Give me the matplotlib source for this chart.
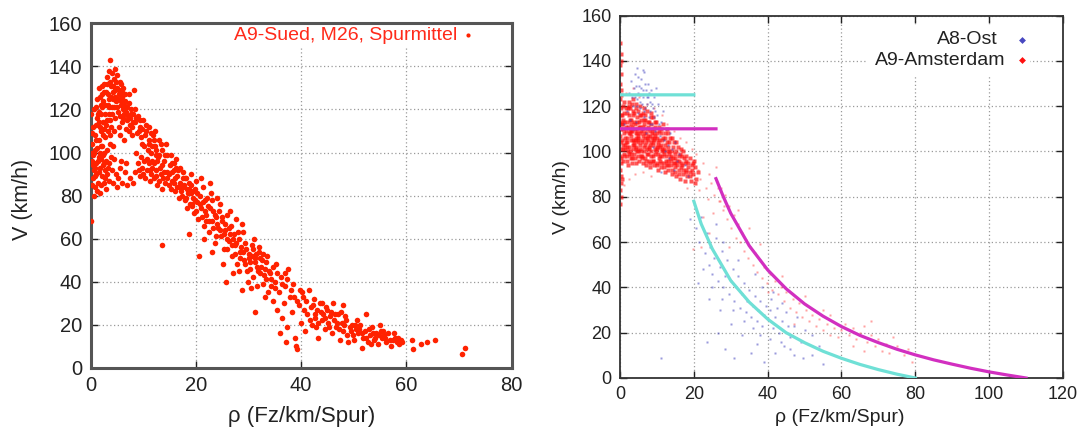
import matplotlib
matplotlib.use('Agg')
import matplotlib.pyplot as plt # Commandes plots
from matplotlib.patches import Rectangle # Fond blanc derriere la legende

plt.rcParams['font.family'] = ['Liberation Sans', 'DejaVu Sans']

# ---- Donnees (rho en Fz/km/Spur, V en km/h) ----
# Gauche : A9-Sued, M26, Spurmittel
sued_core = [(0.2,96),(0.3,104),(0.4,88),(0.5,112),(0.6,92),(0.7,100),(0.8,84),(0.9,108),(1.0,95),(1.1,90),
    (1.2,102),(1.3,116),(1.4,86),(1.5,98),(1.6,106),(1.7,93),(1.8,81),(1.9,110),(2.0,97),(2.1,89),(2.2,103),
    (2.3,94),(2.4,114),(2.5,86),(2.6,100),(2.7,92),(2.8,107),(2.9,96),(3.0,83),(3.1,101),(3.2,90),(3.3,110),
    (3.4,95),(3.5,87),(3.6,104),(3.8,98),(4.0,92),(0.1,118),(0.2,109),(0.3,85),(0.5,99),(0.6,120),(0.8,93),
    (1.0,113),(1.2,82),(1.4,96),(1.6,119),(1.8,100),(2.0,85),(2.2,121),(2.5,95),(2.8,88),(3.1,115),(0.4,94),
    (0.9,101),(1.5,91),(2.4,99),(3.3,93),(0.1,68),(0.7,80),(1.1,106),(1.9,103),(2.6,111),(0.3,100),(0.9,89),
    (4.2,86),(4.5,97),(4.8,90),(5.2,88),(5.5,93),(6.0,86),(6.5,91),(7.0,85),(7.5,88),(8.0,86),(5.0,84),
    (3.7,108),(4.3,103),(5.8,96),(6.8,95)]
sued_upper = [(1.2,125),(1.5,130),(2.0,118),(2.2,127),(2.5,132),(2.7,122),(3.0,128),(3.2,135),(3.4,118),
    (3.5,125),(3.7,143),(3.8,131),(4.0,137),(4.1,121),(4.3,128),(4.5,134),(4.6,116),(4.8,124),(5.0,130),
    (5.2,119),(5.3,127),(5.5,133),(5.7,122),(5.9,114),(6.0,126),(6.2,130),(6.4,118),(6.6,124),(6.8,111),
    (7.0,121),(7.2,127),(7.4,116),(7.6,120),(7.8,112),(8.0,118),(8.3,129),(8.5,114),(8.8,109),(9.0,117),
    (9.3,112),(9.6,107),(10.0,115),(2.9,113),(3.9,112),(4.4,110),(5.6,108),(6.3,106),(7.3,110),(1.8,112),
    (2.4,108),(3.3,122),(4.7,129),(5.4,112),(6.1,120),(6.9,115),(2.1,131),(5.1,136),(5.8,132),(3.6,115),(4.2,125),
    (1.0,121),(1.4,118),(1.7,126),(2.3,124),(2.6,128),(2.8,118),(3.1,132),(3.3,127),(3.5,121),(3.7,133),
    (3.9,126),(4.0,118),(4.2,131),(4.4,121),(4.6,126),(4.9,133),(5.0,121),(5.2,125),(5.4,129),(5.6,117),
    (5.8,124),(6.0,128),(6.2,116),(6.4,122),(6.6,127),(6.8,119),(7.1,117),(7.3,123),(7.5,113),(7.7,118),
    (8.1,114),(8.4,120),(8.7,116),(9.1,110),(9.4,115),(9.8,111),(10.3,108),(10.6,113),(11.0,104),(11.4,109),
    (11.7,103),(12.1,106),(12.5,101),(13.0,99),(13.4,104),(3.4,138),(4.6,139),(2.0,122),(1.6,114),(7.9,108)]
sued_mid = [(10.2,103),(10.5,110),(10.8,97),(11.0,106),(11.2,92),(11.5,100),(11.8,108),(12.0,95),(12.3,103),
    (12.5,89),(12.8,98),(13.0,106),(13.2,93),(13.5,101),(13.8,88),(14.0,96),(14.3,104),(14.5,91),(14.8,85),
    (15.0,94),(15.3,99),(15.5,87),(15.8,92),(16.0,82),(16.2,97),(16.5,89),(16.8,84),(17.0,93),(17.3,80),
    (17.5,88),(17.8,85),(18.0,78),(9.0,95),(9.5,98),(10.0,90),(11.3,87),(12.7,85),(8.6,100),(9.8,104),
    (11.6,96),(13.6,83),(14.6,99),(15.9,95),(16.7,79),(17.6,91),(18.4,83),(13.5,57),(11.0,112),(12.2,110),(9.2,92),
    (9.3,89),(9.7,93),(10.1,96),(10.4,88),(10.7,92),(11.1,95),(11.4,90),(11.7,93),(12.0,88),(12.4,92),
    (12.6,96),(12.9,87),(13.3,90),(13.6,94),(13.9,91),(14.2,86),(14.5,88),(14.9,90),(15.2,83),(15.5,91),
    (15.8,86),(16.1,88),(16.4,84),(16.6,92),(17.0,86),(17.2,82),(17.6,84),(17.9,88),(18.2,79),(18.6,86),
    (19.0,81),(19.3,76),(8.4,91),(10.9,101),(12.4,99),(14.1,99),(15.5,95),(16.3,93)]
sued_band = [(18.2,88),(18.5,81),(18.7,62),(18.9,76),(19.1,85),(19.4,79),(19.6,72),(19.9,83),(20.2,77),
    (20.4,69),(20.6,52),(20.8,80),(21.0,74),(21.3,84),(21.5,66),(21.8,78),(22.0,71),(22.3,75),(22.5,63),
    (22.8,81),(23.0,68),(23.3,73),(23.6,58),(23.9,70),(24.2,65),(24.5,76),(24.8,61),(25.0,68),(25.3,55),
    (25.6,64),(25.8,40),(26.0,71),(26.3,59),(26.6,66),(26.9,52),(27.2,62),(27.5,57),(27.8,48),(28.1,60),
    (28.4,54),(28.8,67),(28.8,36),(29.1,50),(29.4,58),(29.7,45),(30.0,53),(30.3,49),(30.6,57),(30.9,42),
    (31.2,26),(31.3,51),(31.6,47),(31.9,54),(32.2,44),(32.5,50),(32.8,39),(33.1,46),(33.4,41),(33.7,35),
    (34.0,44),(34.3,38),(34.6,31),(35.0,40),(19.0,90),(20.0,87),(21.6,60),(22.6,86),(24.0,79),(26.4,73),
    (27.0,44),(29.0,63),(31.0,60),(32.0,56),(33.5,52),(23.1,54),(25.2,48),(27.6,69),(30.5,37),(22.0,68),(20.9,88),
    (18.3,74),(18.6,83),(19.2,75),(19.5,82),(19.8,78),(20.1,73),(20.3,81),(20.7,76),(21.1,70),(21.4,77),
    (21.7,73),(22.1,79),(22.4,68),(22.7,74),(23.0,78),(23.3,65),(23.6,71),(24.0,67),(24.3,73),(24.6,64),
    (24.9,70),(25.3,62),(25.6,67),(25.9,60),(26.2,65),(26.5,62),(26.8,57),(27.1,60),(27.4,53),(27.7,58),
    (28.0,63),(28.3,51),(28.6,56),(29.0,54),(29.3,48),(29.6,55),(30.0,51),(30.3,46),(30.6,52),(30.9,55),
    (31.2,49),(31.5,53),(31.8,45),(32.1,51),(32.4,47),(32.7,53),(33.0,43),(33.3,49),(33.8,45),(34.2,41),
    (34.6,47),(35.1,37),(35.4,44),(36.3,39),(36.9,44),(37.4,41),(38.0,36),(38.6,33),(39.2,31),(39.8,36),
    (23.9,61),(26.0,55),(28.2,45),(29.9,40),(31.7,38),(33.2,33)]
sued_tail = [(35.2,48),(35.5,27),(35.8,35),(36.1,42),(36.4,23),(36.7,30),(37.0,38),(37.3,19),(37.6,46),
    (37.9,33),(38.2,26),(38.5,39),(38.8,14),(39.0,10),(39.3,8.5),(39.6,29),(40.0,21),(40.4,33),(40.8,17),
    (41.2,25),(41.5,36),(41.8,28),(42.1,20),(42.4,32),(42.7,23),(43.0,27),(43.3,14),(43.6,30),(43.9,22),
    (44.2,25),(44.5,18),(44.8,28),(45.1,21),(45.5,24),(45.8,16),(46.0,30),(46.3,22),(46.7,19),(47.0,25),
    (47.4,13),(47.7,21),(48.0,17),(48.4,24),(48.8,15),(49.2,19),(49.6,20),(50.0,13),(50.4,18),(50.8,16),
    (51.2,20),(51.5,9),(51.8,14),(52.1,17),(52.4,25),(52.7,12),(53.0,15),(53.4,19),(53.8,13),(54.2,16),
    (54.6,11),(55.0,20),(55.4,14),(55.8,15),(56.2,12),(56.6,16),(57.0,10),(57.4,13),(57.8,14),(58.2,12),
    (58.6,11),(59.0,13),(61.0,13),(61.3,8.5),(62.8,11),(64.0,12),(65.4,13),(70.5,6.5),(71.1,9),(36.0,16),
    (37.2,12),(40.2,35),(42.9,19),(45.0,27),(49.0,12),(50.6,22),(53.2,11),(55.6,17),(47.9,29),
    (40.6,27),(41.0,31),(41.6,22),(42.2,29),(42.6,25),(43.2,21),(43.8,26),(44.0,30),(44.6,23),(45.3,19),
    (45.7,26),(46.5,25),(47.2,18),(47.6,26),(48.2,20),(48.6,22),(49.4,17),(49.8,15),(50.2,20),(51.0,18),
    (51.6,16),(52.3,14),(52.9,18),(53.6,16),(54.0,14),(54.8,15),(55.2,17),(56.0,14),(56.8,13),(57.6,16),
    (58.4,14),(59.2,12),(46.9,21)]

# Droite : A9-Amsterdam (rouge)
ams_edge = [(0.1,148),(0.2,143),(0.1,138),(0.3,134),(0.1,130),(0.2,127),(0.1,123),(0.3,119),(0.2,116),
    (0.1,113),(0.2,110),(0.1,107),(0.3,104),(0.2,101),(0.1,98),(0.2,95),(0.1,92),(0.3,89),(0.2,86),(0.1,83),
    (0.2,80),(0.1,77),(0.4,140),(0.4,125),(0.5,112),(0.4,97),(0.5,88)]
ams_core = [(0.8,96),(1.3,101),(0.6,105),(1.1,108),(1.5,111),(0.9,114),(1.2,117),(0.7,120),(1.4,103),(1.0,99),
    (0.5,112),(1.6,109),(2.2,94),(1.8,98),(2.4,102),(2.0,106),(2.6,110),(1.9,113),(2.3,116),(2.1,119),(2.5,122),
    (1.7,104),(2.7,108),(2.2,100),(3.1,97),(2.8,100),(3.4,103),(3.0,107),(3.3,111),(2.9,114),(3.5,118),(3.2,121),
    (3.6,105),(3.0,109),(3.3,95),(3.7,113),(4.2,95),(3.9,99),(4.4,102),(4.0,105),(4.6,108),(4.1,112),(4.5,115),
    (4.3,119),(3.8,104),(4.7,110),(4.2,101),(5.1,96),(4.9,100),(5.4,103),(5.0,106),(5.6,109),(5.2,113),(5.5,116),
    (4.8,107),(5.3,111),(5.7,98),(5.0,104),(6.2,95),(5.9,98),(6.4,102),(6.0,105),(6.6,108),(6.1,111),(6.5,114),
    (6.3,117),(5.8,100),(6.7,106),(7.1,94),(6.9,97),(7.4,101),(7.0,104),(7.6,107),(7.2,110),(7.5,113),(6.8,116),
    (7.3,99),(7.7,105),(8.2,93),(7.9,96),(8.4,100),(8.0,103),(8.6,106),(8.1,109),(8.5,112),(8.3,115),(7.8,102),
    (8.7,108),(9.1,94),(8.9,98),(9.4,101),(9.0,104),(9.6,107),(9.2,110),(9.5,113),(8.8,96),(9.3,105),(10.2,92),
    (9.9,95),(10.4,99),(10.0,102),(10.6,105),(10.1,108),(10.5,111),(9.8,100),(10.3,104),(11.1,93),(10.9,96),
    (11.4,100),(11.0,103),(11.6,106),(11.2,110),(10.8,98),(11.5,101),(12.2,91),(11.9,95),(12.4,98),(12.0,101),
    (12.6,104),(12.1,108),(11.8,99),(13.1,92),(12.9,96),(13.4,99),(13.0,102),(13.6,106),(12.8,94),(13.3,100),
    (14.2,90),(13.9,94),(14.4,97),(14.0,100),(14.6,104),(13.8,96),(15.1,89),(14.9,93),(15.4,96),(15.0,99),
    (15.6,102),(14.8,95),(16.2,88),(15.9,92),(16.4,95),(16.0,98),(16.6,101),(17.1,90),(16.9,94),(17.4,97),
    (17.0,100),(17.6,87),(18.2,89),(17.9,92),(18.4,95),(18.0,98),(19.1,87),(18.9,91),(19.4,94),(19.0,97),
    (20.2,86),(19.8,90),(20.4,93),(20.0,96)]
ams_fill = [(1.0,98),(0.7,103),(1.4,106),(0.9,110),(1.2,113),(0.6,116),(1.5,119),(1.1,122),(0.8,101),
    (2.0,96),(2.5,99),(1.9,104),(2.3,108),(2.1,111),(2.6,114),(1.8,117),(2.4,120),(2.0,102),
    (3.0,99),(3.5,101),(2.9,105),(3.3,109),(3.1,112),(3.6,116),(2.8,119),(3.4,123),(3.2,97),
    (4.0,97),(4.5,100),(3.9,103),(4.3,106),(4.1,110),(4.6,113),(3.8,117),(4.4,121),(4.2,108),
    (5.0,98),(5.5,101),(4.9,105),(5.3,108),(5.1,111),(5.6,114),(4.8,118),(5.4,120),
    (6.0,97),(6.5,100),(5.9,104),(6.3,107),(6.1,110),(6.6,112),(5.8,116),(6.4,119),
    (7.0,96),(7.5,99),(6.9,103),(7.3,106),(7.1,108),(7.6,111),(6.8,114),(7.4,118),
    (8.0,95),(8.5,98),(7.9,101),(8.3,104),(8.1,107),(8.6,110),(7.8,113),(8.4,117),
    (9.0,96),(9.5,99),(8.9,103),(9.3,106),(9.1,108),(9.6,111),(8.8,115),
    (10.0,94),(10.5,97),(9.9,101),(10.3,103),(10.1,106),(10.6,109),(9.8,113),
    (11.0,95),(11.5,98),(10.9,102),(11.3,105),(11.1,108),(11.6,112),
    (12.0,93),(12.5,96),(11.9,100),(12.3,103),(12.1,106),(12.6,110),
    (13.0,94),(13.5,97),(12.9,100),(13.3,104),(13.1,108),
    (14.0,92),(14.5,95),(13.9,98),(14.3,102),(14.1,106),
    (15.0,91),(15.5,94),(14.9,97),(15.3,100),(15.1,104),
    (16.0,90),(16.5,93),(15.9,96),(16.3,99),(17.0,92),(17.5,95),(16.9,98),(18.0,91),(18.5,93),(17.9,96),
    (19.0,89),(19.5,92),(19.8,95),(20.6,88),(21.0,91)]
ams_sparse = [(1.5,126),(3.5,128),(5.2,124),(7.4,121),(9.1,119),(11.3,116),(12.8,112),(14.5,109),(16.3,106),
    (17.9,104),(2.3,88),(4.1,90),(1.2,85),(6.3,91),(8.5,89),(19.5,101),(21.0,92),(21.8,88),(22.5,95),(23.3,84),
    (24.0,90),(24.6,86),(25.4,81),(26.0,93),(26.7,78),(27.4,84),(28.3,76),(21.4,83),(23.8,79),(19.9,57),
    (22.5,71),(25.1,73),(18.2,84),(20.5,99)]
ams_jam = [(26.5,84),(27.2,78),(27.8,74),(28.4,81),(29.0,70),(29.5,76),(30.2,66),(30.8,72),(31.3,62),(31.9,68),
    (32.5,60),(33.0,64),(33.6,56),(34.2,61),(34.8,53),(35.3,58),(36.0,50),(36.6,55),(37.2,47),(37.9,52),
    (38.5,44),(39.1,49),(39.8,42),(40.5,46),(41.2,39),(42.0,43),(42.8,37),(43.5,40),(44.3,34),(45.1,38),
    (46.0,31),(46.8,35),(47.6,29),(48.5,33),(49.4,27),(50.3,30),(51.2,25),(52.1,28),(53.0,23),(54.0,26),
    (55.0,21),(56.0,24),(57.0,19),(58.0,22),(59.0,18),(60.0,21),(61.0,24),(62.0,19),(63.0,22),(64.0,17),
    (65.0,20),(66.0,23),(67.0,16),(68.0,19),(69.0,14),(70.0,17),(71.0,12),(72.0,15),(73.0,11),(75.0,14),
    (77.0,10),(78.0,13),(79.0,7),(32.0,74),(35.0,66),(40.0,38),(44.0,45),(50.0,36),(57.0,28),(63.0,14),
    (68.0,25),(74.0,18),(29.5,58),(38.0,59),(47.0,24),(55.0,30),(66.0,12),(24.0,64),(22.0,58)]

# Droite : A8-Ost (bleu)
ost_free = [(2.5,126),(3.0,131),(3.4,120),(3.8,128),(4.1,134),(4.5,123),(4.8,117),(5.1,129),(5.4,125),(5.7,132),
    (6.0,121),(6.3,127),(6.6,135),(6.9,119),(7.2,124),(7.5,130),(7.8,115),(8.1,122),(8.4,127),(8.7,112),
    (9.0,119),(9.3,124),(9.6,109),(10.0,116),(10.4,121),(10.8,107),(11.2,113),(11.6,118),(12.0,105),(12.5,110),
    (13.0,103),(13.6,108),(14.2,101),(15.0,104),(16.0,99),(4.3,113),(5.9,110),(7.0,108),(2.0,118),(1.2,112),
    (6.5,115),(8.9,102),(9.8,128),(4.6,137),(3.6,110),(5.3,119),(7.9,126),(11.0,91),(14.5,92),
    (4.0,124),(4.4,129),(4.9,126),(5.5,122),(5.8,128),(6.2,124),(6.7,130),(7.1,127),(7.4,121),(7.7,124),
    (8.2,118),(8.6,121),(9.1,115),(5.0,133),(6.1,136),(3.2,124),(4.7,120),(6.4,118),(8.0,112),(9.5,118),
    (10.6,112),(2.8,114),(12.3,100),(13.3,97),(15.5,96),(17.5,94),(18.5,89)]
ost_jam = [(19.0,70),(20.5,66),(21.5,60),(22.0,71),(23.0,55),(23.5,64),(24.0,50),(24.5,58),(25.0,46),(25.5,53),
    (26.0,62),(26.5,43),(27.0,49),(27.5,56),(28.0,40),(28.5,45),(29.0,52),(29.5,37),(30.0,43),(30.5,48),
    (31.0,34),(31.5,40),(32.0,45),(32.5,31),(33.0,37),(33.5,42),(34.0,29),(34.5,34),(35.0,39),(35.5,27),
    (36.0,32),(36.5,36),(37.0,25),(37.5,30),(38.0,34),(38.5,23),(39.0,28),(39.5,32),(40.0,26),(40.5,30),
    (41.0,35),(41.5,22),(42.0,27),(42.5,31),(43.0,20),(44.0,25),(45.0,29),(46.0,18),(47.0,23),(48.0,27),
    (49.0,16),(50.0,21),(52.0,19),(54.0,14),(55.0,6),(11.0,9),(23.5,16),(26.5,20),(28.5,13),(31.0,9),
    (33.0,19),(35.5,11),(37.0,15),(39.0,7),(42.0,11),(44.5,14),(47.0,10),(24.0,35),(27.0,30),(21.0,42),(30.0,24),
    (22.5,48),(25.0,40),(27.5,35),(30.5,30),(33.5,25),(36.0,22),(38.0,19),(40.5,17),(43.5,16),(46.0,13),
    (49.5,9),(52.0,10),(26.0,68),(28.0,60),(32.0,52),(36.5,46),(38.5,40),(41.5,38),(44.0,33),(45.5,23)]

# Courbes ; None = coupure entre le palier et la branche congestionnee
ost_fit_rho = [0, 20, 20, 20, 22, 25, 30, 35, 40, 45, 50, 55, 60, 65, 70, 75, 80]
ost_fit_v = [125, 125, None, 78, 68, 57, 43, 33.5, 26, 20, 15.6, 11.8, 8.7, 6, 3.7, 1.7, 0]
ams_fit_rho = [0, 26, 26, 26, 28, 30, 35, 40, 45, 50, 55, 60, 65, 70, 75, 80, 85, 90, 95, 100, 105, 110]
ams_fit_v = [110, 110, None, 88, 80, 72.7, 58.4, 47.7, 39.4, 32.7, 27.3, 22.7, 18.8, 15.6, 12.7, 10.2, 8, 6.1, 4.3, 2.7, 1.3, 0]


def xy(*listes): # Concatene des listes de points et separe rho / V
    pts = [p for l in listes for p in l]
    return [p[0] for p in pts], [p[1] for p in pts]


def style_axes(ax, xmax, fs, spine_lw, spine_col):
    """Style gnuplot : grille pointillee, ticks vers l'interieur sur les 4 cotes"""
    ax.set_xlim(0, xmax)
    ax.set_ylim(0, 160)
    ax.set_xticks(range(0, xmax + 1, 20))
    ax.set_yticks(range(0, 161, 20))
    ax.grid(True, color='#9a9a9a', linestyle=(0, (1, 2)), linewidth=0.9)
    ax.set_axisbelow(True)
    ax.tick_params(direction='in', top=True, right=True, length=5, width=1,
                   labelsize=fs, pad=6, colors='#222222')
    for s in ax.spines.values():
        s.set_linewidth(spine_lw)
        s.set_color(spine_col)


fig = plt.figure(figsize=(10.83, 4.32), dpi=100)

# ---- Plot gauche ----
ax1 = fig.add_axes([0.0837, 0.1488, 0.3887, 0.797])
style_axes(ax1, 80, 14.5, 2.2, '#555555')
sx, sy = xy(sued_core, sued_upper, sued_mid, sued_band, sued_tail)
ax1.plot(sx, sy, 'o', color='#ff2200', ms=4.0, mec='none', zorder=3)
ax1.add_patch(Rectangle((0.235, 0.932), 0.70, 0.066, transform=ax1.transAxes,
                        facecolor='white', edgecolor='none', zorder=1))
ax1.text(0.872, 0.966, 'A9-Sued, M26, Spurmittel', transform=ax1.transAxes, ha='right', va='center',
         fontsize=14, color='#ff2a1a', zorder=4)
ax1.plot([0.896], [0.966], 'o', color='#ff2200', ms=3, mec='none', transform=ax1.transAxes, zorder=4)
ax1.set_xlabel('ρ (Fz/km/Spur)', fontsize=16, color='#222222')
ax1.set_ylabel('V (km/h)', fontsize=15.5, color='#222222')
ax1.xaxis.set_label_coords(0.5, -0.143)
ax1.xaxis.label.set_va('center')
ax1.yaxis.set_label_coords(-0.161, 0.49)
ax1.yaxis.label.set_va('center')

# ---- Plot droit ----
ax2 = fig.add_axes([0.5725, 0.125, 0.409, 0.839])
style_axes(ax2, 120, 13, 1.3, '#333333')
cx, cy = xy(ams_edge, ams_core, ams_fill)
ax, ay = xy(ams_sparse, ams_jam)
bx, by = xy(ost_free, ost_jam)
ax2.plot(cx, cy, 's', color='#ff1010', ms=2.3, mec='none', alpha=0.7, zorder=2)
ax2.plot(ax, ay, 's', color='#ff3030', ms=1.5, mec='none', alpha=0.45, zorder=2)
ax2.plot(bx, by, 's', color='#4848c0', ms=1.6, mec='none', alpha=0.55, zorder=2.1)
ax2.plot(ost_fit_rho, ost_fit_v, color='#6fe0d6', lw=2.3, zorder=3)
ax2.plot(ams_fit_rho, ams_fit_v, color='#d22fc0', lw=2.3, zorder=3)
ax2.add_patch(Rectangle((0.558, 0.835), 0.367, 0.139, transform=ax2.transAxes,
                        facecolor='white', edgecolor='none', zorder=1))
ax2.text(0.853, 0.933, 'A8-Ost', transform=ax2.transAxes, ha='right', va='center', fontsize=14, color='#222222', zorder=4)
ax2.text(0.871, 0.876, 'A9-Amsterdam', transform=ax2.transAxes, ha='right', va='center', fontsize=14, color='#222222', zorder=4)
ax2.plot([0.907], [0.933], 'D', color='#4848c0', ms=3.5, mec='none', transform=ax2.transAxes, zorder=4)
ax2.plot([0.907], [0.876], 'D', color='#ff1010', ms=3.5, mec='none', transform=ax2.transAxes, zorder=4)
ax2.set_xlabel('ρ (Fz/km/Spur)', fontsize=14, color='#222222')
ax2.set_ylabel('V (km/h)', fontsize=14, color='#222222')
ax2.xaxis.set_label_coords(0.497, -0.110)
ax2.xaxis.label.set_va('center')
ax2.yaxis.set_label_coords(-0.132, 0.5)
ax2.yaxis.label.set_va('center')

plt.savefig('out.png', dpi=100)
